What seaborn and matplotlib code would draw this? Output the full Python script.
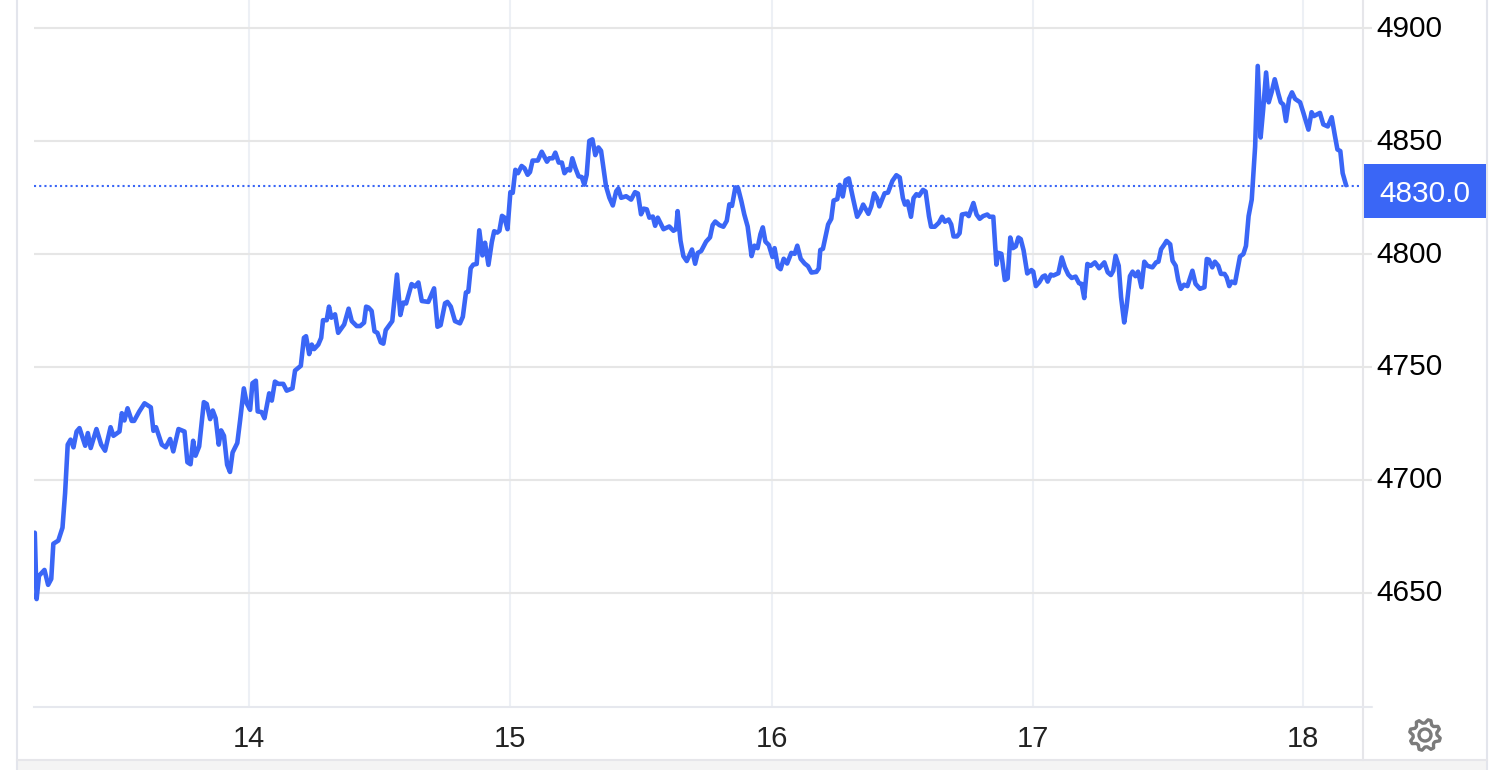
import numpy as np
import pandas as pd
import matplotlib
matplotlib.use('Agg')
import matplotlib.pyplot as plt
from matplotlib.patches import Rectangle, Polygon, Circle
from matplotlib.transforms import ScaledTranslation
import seaborn as sns

days = [
    13.18, 13.187, 13.196, 13.217, 13.231, 13.243, 13.251, 13.27, 13.286, 13.296, 13.306, 13.317, 13.328, 13.34,
    13.351, 13.373, 13.383, 13.394, 13.416, 13.434, 13.449, 13.47, 13.481, 13.504, 13.513, 13.523, 13.535, 13.551,
    13.56, 13.58, 13.6, 13.624, 13.634, 13.644, 13.666, 13.681, 13.698, 13.71, 13.73, 13.753, 13.764, 13.776,
    13.786, 13.795, 13.809, 13.827, 13.838, 13.851, 13.861, 13.872, 13.884, 13.893, 13.904, 13.916, 13.927, 13.937,
    13.955, 13.966, 13.98, 13.991, 14.004, 14.013, 14.026, 14.033, 14.048, 14.059, 14.077, 14.087, 14.099, 14.112,
    14.131, 14.144, 14.166,
    14.176, 14.198, 14.21, 14.218, 14.23, 14.24, 14.249, 14.265, 14.276, 14.283, 14.297, 14.306, 14.315, 14.329,
    14.341, 14.364, 14.381, 14.393, 14.412, 14.425, 14.44, 14.448, 14.457, 14.469, 14.48, 14.491, 14.504, 14.514,
    14.523, 14.548, 14.566, 14.579, 14.59, 14.601, 14.622, 14.635, 14.648, 14.661, 14.686, 14.708, 14.721, 14.733,
    14.75, 14.759, 14.772, 14.788, 14.807, 14.818, 14.83, 14.839, 14.848, 14.858, 14.871, 14.881, 14.893, 14.903,
    14.916, 14.929, 14.938, 14.95,
    14.958, 14.968, 14.977, 14.989, 15.0, 15.009, 15.019, 15.029, 15.043, 15.054, 15.066, 15.075, 15.085, 15.105,
    15.12, 15.14, 15.149, 15.162, 15.172, 15.185, 15.197, 15.207, 15.219, 15.228, 15.237, 15.249, 15.261, 15.273,
    15.283, 15.292, 15.302, 15.314, 15.325, 15.337, 15.347, 15.366, 15.379, 15.392, 15.405, 15.413, 15.424, 15.443,
    15.462, 15.477, 15.488, 15.5, 15.51, 15.522, 15.532, 15.545, 15.554, 15.564, 15.586, 15.608, 15.624, 15.634,
    15.64, 15.651, 15.662, 15.675, 15.695, 15.707, 15.717, 15.73, 15.749, 15.764, 15.774, 15.784, 15.8, 15.815,
    15.828, 15.838, 15.848, 15.861, 15.871, 15.884, 15.895, 15.908, 15.917, 15.923, 15.934, 15.946, 15.957, 15.966,
    15.976, 15.989,
    16.003, 16.011, 16.024, 16.034, 16.046, 16.059, 16.075, 16.088, 16.098, 16.111, 16.126, 16.139, 16.152, 16.171,
    16.18, 16.186, 16.196, 16.216, 16.228, 16.237, 16.251, 16.26, 16.272, 16.283, 16.295, 16.311, 16.327, 16.34,
    16.35, 16.37, 16.381, 16.392, 16.403, 16.412, 16.432, 16.445, 16.462, 16.477, 16.49, 16.502, 16.51, 16.52,
    16.533, 16.543, 16.554, 16.564, 16.579, 16.589, 16.602, 16.61, 16.624, 16.64, 16.652, 16.663, 16.677, 16.687,
    16.696, 16.709, 16.719, 16.728, 16.745, 16.754, 16.772, 16.784, 16.796, 16.809, 16.825, 16.834, 16.848, 16.86,
    16.867, 16.879, 16.892, 16.903, 16.913, 16.923, 16.934, 16.944, 16.953, 16.964, 16.978, 16.994,
    17.001, 17.011, 17.024, 17.037, 17.046, 17.056, 17.068, 17.078, 17.097, 17.11, 17.122, 17.135, 17.148, 17.163,
    17.176, 17.186, 17.196, 17.208, 17.221, 17.237, 17.253, 17.273, 17.286, 17.298, 17.307, 17.316, 17.328, 17.337,
    17.349, 17.358, 17.371, 17.381, 17.392, 17.402, 17.415, 17.426, 17.438, 17.457, 17.471, 17.48, 17.49, 17.503,
    17.511, 17.525, 17.534, 17.546, 17.556, 17.566, 17.578, 17.591, 17.61, 17.622, 17.639, 17.656, 17.665, 17.673,
    17.686, 17.696, 17.709, 17.719, 17.733, 17.741, 17.751, 17.76, 17.773, 17.792, 17.805, 17.815, 17.825, 17.837,
    17.85, 17.86, 17.871, 17.881, 17.892, 17.902, 17.913, 17.925, 17.939, 17.948, 17.958, 17.968, 17.98, 17.991,
    18.003, 18.022, 18.034, 18.054, 18.066, 18.075, 18.098, 18.111, 18.128, 18.143, 18.155, 18.165, 18.176, 18.185,
    18.198,
]
prices = [
    4676.5, 4647.1, 4657.4, 4660, 4653.4, 4656, 4671.6, 4673, 4678.7, 4694, 4715.5, 4717.7, 4714.3, 4721.3,
    4722.8, 4715, 4720.6, 4714, 4722.4, 4715.5, 4712.8, 4723.2, 4719.4, 4721.3, 4729.4, 4726.2, 4731.6, 4726,
    4726, 4730.2, 4733.8, 4732, 4721.6, 4723.2, 4715.5, 4714.3, 4718, 4712.5, 4722.4, 4721.3, 4707.7, 4706.8,
    4717.2, 4710.6, 4714.7, 4734.3, 4733.5, 4726.8, 4730.6, 4727.2, 4715.5, 4721.8, 4719.4, 4706.6, 4703.4, 4712,
    4716.2, 4726.5, 4740.4, 4733.8, 4730.9, 4742.7, 4743.8, 4730.2, 4729.9, 4727.2, 4738.2, 4735, 4743.4, 4742.4,
    4742.4, 4739.4, 4740.4,
    4748.3, 4750.4, 4762.8, 4763.5, 4755.6, 4759.8, 4757.8, 4759.8, 4762.8, 4770.6, 4770.6, 4776.6, 4771.7, 4773.2,
    4765, 4768.7, 4775.7, 4770.2, 4768, 4768, 4769.5, 4776.6, 4776.2, 4774.7, 4765.7, 4765, 4760.8, 4760.2,
    4766.2, 4770.2, 4790.8, 4772.9, 4778.4, 4778, 4786.6, 4785.5, 4787.3, 4779.1, 4778.7, 4784.7, 4767.7, 4768.4,
    4778.1, 4778.7, 4776.6, 4770.2, 4769.2, 4772.1, 4782.9, 4783.2, 4793.6, 4795.2, 4795.5, 4810.4, 4799.3, 4804.9,
    4795.1, 4805.2, 4810, 4809.4,
    4810.2, 4816.8, 4816.1, 4810.9, 4827.3, 4827, 4837.2, 4835.7, 4838.9, 4837.9, 4835, 4836.2, 4841.3, 4841.3,
    4845.2, 4840.8, 4842.3, 4842.3, 4844.8, 4840.4, 4840.4, 4835.7, 4837.5, 4836.9, 4842.3, 4837.9, 4834.3, 4834,
    4830.6, 4835, 4850, 4850.7, 4843.7, 4847.1, 4845.6, 4829.9, 4824.8, 4821.4, 4827.7, 4828.9, 4824.8, 4825.5,
    4824, 4827.3, 4826.7, 4817.5, 4820, 4819.7, 4816, 4816.5, 4812.4, 4816, 4810.9, 4812.1, 4810.2, 4810.9,
    4818.9, 4805.8, 4799, 4796.8, 4801.9, 4795.6, 4800.4, 4801.2, 4805.4, 4807.3, 4812.7, 4814.3, 4812.7, 4812,
    4814.6, 4821.9, 4821.2, 4829.4, 4829.2, 4823.3, 4817.5, 4812.1, 4804.4, 4799, 4803.6, 4802.5, 4808.7, 4811.7,
    4805.4, 4803.9,
    4798.6, 4802.5, 4794.2, 4793.2, 4797.8, 4795.7, 4800.4, 4800, 4803.6, 4797.8, 4795.7, 4794.5, 4791.7, 4792,
    4793.5, 4801.7, 4802.2, 4813, 4815.5, 4823.6, 4824.2, 4830.5, 4825.4, 4832.6, 4833.4, 4824.7, 4816.4, 4818.9,
    4821.8, 4817.7, 4821, 4826.8, 4824.7, 4821, 4826.8, 4827.1, 4832.3, 4834.8, 4833.8, 4824.7, 4821.8, 4823.2,
    4816.4, 4824.7, 4826.4, 4825.7, 4828.3, 4827.6, 4816.7, 4812, 4812, 4813.8, 4816.4, 4814.2, 4815.2, 4813,
    4807.7, 4807.7, 4809.1, 4817.4, 4817.8, 4816.7, 4822.5, 4817.4, 4815.5, 4816.7, 4817.4, 4816.4, 4816.4, 4795.2,
    4800.4, 4800, 4788.4, 4789.1, 4807.2, 4802.5, 4803.3, 4807.2, 4806.5, 4801.5, 4791.3, 4792.8,
    4792.1, 4785.7, 4787.4, 4789.9, 4790.4, 4787.7, 4790.8, 4790.4, 4791.4, 4798.4, 4794, 4790.8, 4789.3, 4789.9,
    4787, 4786.7, 4780.4, 4795.5, 4794.7, 4796.2, 4793.6, 4796.2, 4791.8, 4790.6, 4792.5, 4799.1, 4794.7, 4780.8,
    4769.6, 4776.5, 4790.1, 4792.1, 4790.1, 4792.1, 4785.2, 4796.5, 4794.7, 4794, 4796.2, 4796.5, 4802, 4804.2,
    4805.7, 4804.2, 4796.9, 4794.7, 4788.2, 4784.5, 4786.3, 4785.7, 4792.5, 4786.7, 4784.5, 4785.2, 4797.7, 4797.4,
    4794, 4796.5, 4794.7, 4791.1, 4791.1, 4789.6, 4785.7, 4787.7, 4787, 4798.8, 4799.9, 4803.5, 4816.7, 4824,
    4847.4, 4883.2, 4851.5, 4864.2, 4880.3, 4867.1, 4871.5, 4877.3, 4870.8, 4867.1, 4866.1, 4858.8, 4868.6, 4871.5,
    4868.6, 4867.1, 4862.7, 4855, 4862.7, 4861, 4862.4, 4857.3, 4856.4, 4860.5, 4852.5, 4846.2, 4845.5, 4835.7,
    4830.4,
]
last_price = 4830.0
day_ticks = [14, 15, 16, 17, 18.034]
day_labels = ['14', '15', '16', '17', '18']
price_ticks = [4650, 4700, 4750, 4800, 4850, 4900]

LINE = '#3a66f6'
W, H = 1506, 770

sns.set_theme(style='whitegrid')
plt.rcParams['font.family'] = ['Liberation Sans', 'DejaVu Sans']

df = pd.DataFrame({'day': days, 'price': prices})

fig = plt.figure(figsize=(W / 100, H / 100), dpi=100, facecolor='white')

# frame around the widget, in pixel coordinates
bg = fig.add_axes([0, 0, 1, 1], zorder=0)
bg.set_xlim(0, W)
bg.set_ylim(H, 0)
bg.axis('off')
bg.add_patch(Rectangle((17, 760), 1470, 10, color='#f4f4f4', lw=0))
bg.plot([17, 17], [0, H], color='#e3e5ec', lw=1.5)
bg.plot([1487, 1487], [0, H], color='#e3e5ec', lw=1.5)
bg.plot([17, 1487], [760, 760], color='#e6e6ea', lw=1.5)
bg.plot([1363, 1363], [0, 760], color='#e6e6ea', lw=1.5)

ax = fig.add_axes([34 / W, 1 - 707 / H, (1362 - 34) / W, 707 / H], zorder=1)
ax.patch.set_alpha(0)
sns.lineplot(data=df, x='day', y='price', ax=ax, color=LINE, lw=3.3, estimator=None, errorbar=None, zorder=3,
             solid_joinstyle='round', solid_capstyle='round')
ax.axhline(last_price, color=LINE, lw=1.5, ls=(0, (1, 1.5)), zorder=2)

ax.set_xlim(13.177, 18.259)
ax.set_ylim(4599.3, 4912.4)
ax.set_xlabel('')
ax.set_ylabel('')
ax.set_xticks(day_ticks)
ax.set_xticklabels(day_labels)
ax.set_yticks(price_ticks)
ax.yaxis.tick_right()

ax.xaxis.grid(True, color='#edf0f5', lw=1.5)
ax.yaxis.grid(True, color='#e6e6e6', lw=1.5)
ax.tick_params(axis='x', length=0, pad=13, labelsize=21, labelcolor='#222222')
ax.tick_params(axis='y', length=7.2, width=1.5, color='#e6e6e6', pad=3, labelsize=21.5, labelcolor='black',
               right=True, left=False)
# tick numbers sit a little above their grid lines
lift = ScaledTranslation(0, 1.6 / 72, fig.dpi_scale_trans)
for lab in ax.get_yticklabels():
    lab.set_transform(lab.get_transform() + lift)
for name, spine in ax.spines.items():
    spine.set_visible(name == 'bottom')
ax.spines['bottom'].set_color('#e6e8ee')
ax.spines['bottom'].set_linewidth(1.5)

# current price tag
top = fig.add_axes([0, 0, 1, 1], zorder=2)
top.set_xlim(0, W)
top.set_ylim(H, 0)
top.axis('off')
top.plot([1364, 1372], [707, 707], color='#e6e8ee', lw=1.5)
top.add_patch(Rectangle((1364, 164), 122, 54, color=LINE, lw=0))
top.text(1425, 194.5, f'{last_price:.1f}', color='white', fontsize=21.5, ha='center', va='center')

# settings gear
cx, cy = 1425, 735
teeth = 8
ang = np.linspace(0, 2 * np.pi, teeth * 4, endpoint=False) + np.pi / teeth * 0.5
rad = np.tile([15.5, 15.5, 12, 12], teeth)
pts = np.column_stack([cx + rad * np.cos(ang), cy + rad * np.sin(ang)])
top.add_patch(Polygon(pts, closed=True, fill=False, ec='#7b7b7b', lw=2.4, joinstyle='round'))
top.add_patch(Circle((cx, cy), 6, fill=False, ec='#7b7b7b', lw=2.4))

fig.savefig('out.png', dpi=100)
